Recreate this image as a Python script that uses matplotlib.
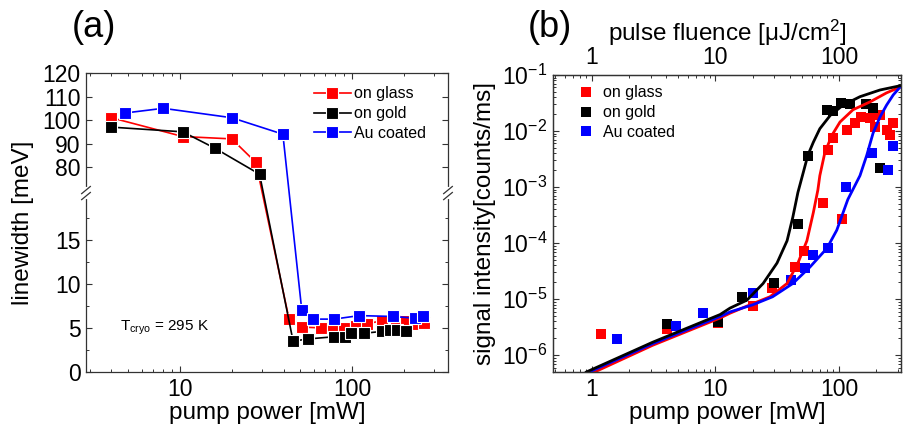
"""
Two-panel figure: (a) linewidth vs pump power with a broken y axis,
(b) signal intensity vs pump power on log-log axes with fit curves.
"""
import numpy as np
import matplotlib
matplotlib.use("Agg")
import matplotlib.pyplot as plt
from matplotlib.ticker import LogLocator, NullFormatter, FixedLocator

plt.rcParams['font.family'] = ['Liberation Sans', 'DejaVu Sans']
plt.rcParams['mathtext.fontset'] = 'custom'
plt.rcParams['mathtext.rm'] = 'Liberation Sans'
plt.rcParams['mathtext.it'] = 'Liberation Sans:italic'

RED, BLACK, BLUE = '#ff0000', '#000000', '#0000ff'
SPINE = '#333333'

# ---- panel (a): linewidth [meV] vs pump power [mW]
glass_p = [4.0, 10.4, 20, 27.6, 43, 51, 66, 77, 90, 105, 122, 150, 180, 205, 240, 262]
glass_w = [101, 93, 92, 82, 6.0, 5.1, 5.0, 4.9, 5.0, 5.2, 5.5, 5.8, 5.9, 5.8, 5.5, 5.6]
gold_p = [4.0, 10.4, 16, 29, 45.4, 55.5, 78.5, 91, 98.6, 117, 149, 166, 183, 204]
gold_w = [97, 95, 88, 77, 3.5, 3.75, 4.0, 4.0, 4.4, 4.4, 4.6, 4.8, 4.8, 4.6]
au_p = [4.8, 8.0, 20, 39.6, 51, 59, 78.5, 110, 173, 233, 258]
au_w = [103, 105, 101, 94, 7.0, 6.0, 6.0, 6.4, 6.3, 6.1, 6.3]

# ---- panel (b): signal intensity [counts/ms] vs pump power [mW]
glass_sp = [1.18, 4.05, 10.5, 20, 28.7, 44, 52, 74, 81, 90, 106, 116, 135, 150,
            178, 195, 215, 243, 260, 275]
glass_si = [2.4e-6, 2.9e-6, 3.8e-6, 7.5e-6, 1.6e-5, 3.7e-5, 7.3e-5, 5.1e-4, 4.5e-3,
            7.5e-3, 2.7e-4, 1.05e-2, 1.4e-2, 1.8e-2, 1.7e-2, 1.2e-2, 1.9e-2, 1.05e-2,
            8.5e-3, 1.4e-2]
gold_sp = [4.05, 10.5, 16.4, 30, 46.6, 56, 80, 89, 103, 123, 165, 190, 215]
gold_si = [3.6e-6, 3.9e-6, 1.1e-5, 1.9e-5, 2.2e-4, 3.6e-3, 2.4e-2, 2.3e-2, 3.1e-2,
           3.0e-2, 3.0e-2, 2.6e-2, 2.2e-3]
au_sp = [1.6, 4.8, 7.9, 20, 41, 53, 62, 81, 115, 186, 250, 275]
au_si = [1.95e-6, 3.3e-6, 5.6e-6, 1.3e-5, 2.2e-5, 3.6e-5, 6.1e-5, 8.1e-5, 1.0e-3,
         4.0e-3, 2.0e-3, 5.3e-3]

# fit curves
gold_fit_p = [0.9, 3.1, 10.9, 13.1, 18, 24.3, 31.5, 38, 42.3, 46.5, 51.5, 56, 62, 70,
              85, 108, 148, 215, 310]
gold_fit_i = [5e-7, 1.7e-6, 5.3e-6, 6.9e-6, 9.6e-6, 1.9e-5, 4.4e-5, 1.1e-4, 2.9e-4,
              8e-4, 1.85e-3, 3.7e-3, 6.3e-3, 1.1e-2, 1.9e-2, 2.9e-2, 4.1e-2, 5.4e-2, 6.4e-2]
glass_fit_p = [1.05, 3.1, 10.9, 13.1, 19, 27.6, 38, 46.5, 55, 62, 67.5, 70, 77, 88,
               102, 130, 178, 243, 313]
glass_fit_i = [5e-7, 1.5e-6, 4.6e-6, 5.6e-6, 7.9e-6, 1.1e-5, 1.9e-5, 4.4e-5, 1.1e-4,
               3.5e-4, 8.9e-4, 1.6e-3, 4.2e-3, 8.5e-3, 1.45e-2, 2.4e-2, 3.3e-2, 4.8e-2, 6.1e-2]
au_fit_p = [0.95, 3.1, 10.9, 13.1, 20, 29, 42.3, 58, 80, 96, 118, 148, 168, 189, 215,
            243, 275, 313]
au_fit_i = [5e-7, 1.6e-6, 4.9e-6, 5.9e-6, 7.9e-6, 1.1e-5, 1.9e-5, 3.7e-5, 8.1e-5,
            1.7e-4, 6e-4, 1.6e-3, 3.7e-3, 9.2e-3, 1.78e-2, 2.9e-2, 4.4e-2, 6.1e-2]

LABELS = ['on glass', 'on gold', 'Au coated']

# broken y axis for (a): 0..LOW_TOP below the break, UP_BOT..120 above it
LOW_TOP, UP_BOT, UP_K, GAP = 20.3, 69.0, 0.267, 0.01


def brk_fwd(y):
    y = np.asarray(y, float)
    mid = LOW_TOP + (y - LOW_TOP) * GAP / (UP_BOT - LOW_TOP)
    up = LOW_TOP + GAP + (y - UP_BOT) * UP_K
    return np.where(y <= LOW_TOP, y, np.where(y >= UP_BOT, up, mid))


def brk_inv(t):
    t = np.asarray(t, float)
    mid = LOW_TOP + (t - LOW_TOP) * (UP_BOT - LOW_TOP) / GAP
    up = UP_BOT + (t - LOW_TOP - GAP) / UP_K
    return np.where(t <= LOW_TOP, t, np.where(t >= LOW_TOP + GAP, up, mid))


def style_axes(ax):
    for s in ax.spines.values():
        s.set_color(SPINE)
        s.set_linewidth(0.9)
    ax.tick_params(which='both', direction='in', top=True, right=True,
                   color=SPINE, labelsize=16.5, pad=4)
    ax.tick_params(which='major', length=4.5, width=0.8)
    ax.tick_params(which='minor', length=2.5, width=0.7)


fig = plt.figure(figsize=(9.1, 4.3), dpi=100)

# ---------------- (a)
ax1 = fig.add_axes([0.0945, 0.1349, 0.3978, 0.6953])
ax1.set_xscale('log')
ax1.set_yscale('function', functions=(brk_fwd, brk_inv))
for p, w, c, lab in [(glass_p, glass_w, RED, LABELS[0]),
                     (gold_p, gold_w, BLACK, LABELS[1]),
                     (au_p, au_w, BLUE, LABELS[2])]:
    ax1.plot(p, w, '-s', color=c, lw=1.2, ms=8.5, mec='white', mew=0.8, label=lab)
ax1.set_xlim(2.85, 360)
ax1.set_ylim(0, 120)
ax1.yaxis.set_major_locator(FixedLocator([0, 5, 10, 15, 80, 90, 100, 110, 120]))
ax1.yaxis.set_minor_locator(FixedLocator([2.5, 7.5, 12.5, 17.5]))
ax1.yaxis.set_minor_formatter(NullFormatter())
ax1.set_xticks([10, 100], ['10', '100'])
ax1.xaxis.set_minor_locator(LogLocator(base=10, subs=np.arange(2, 10), numticks=20))
ax1.xaxis.set_minor_formatter(NullFormatter())
style_axes(ax1)
ax1.set_xlabel('pump power [mW]', fontsize=17.5, labelpad=1)
ax1.set_ylabel('linewidth [meV]', fontsize=17.5, labelpad=6)
ax1.text(4.5, 5, r'T$_{\mathregular{cryo}}$ = 295 K', fontsize=11, va='center')
ax1.legend(loc='upper left', bbox_to_anchor=(0.63, 0.955), frameon=False,
           fontsize=11.5, handlelength=2.3, handletextpad=0.2, borderpad=0,
           borderaxespad=0, labelspacing=0.3)

# break marks on both spines
yb = brk_fwd(LOW_TOP + 0.5 * (UP_BOT - LOW_TOP)) / brk_fwd(120)
for xb in (0, 1):
    ax1.plot([xb, xb], [yb - 0.012, yb + 0.012], color='white', lw=3,
             transform=ax1.transAxes, clip_on=False, zorder=5)
    for d in (-0.01, 0.01):
        ax1.plot([xb - 0.012, xb + 0.012], [yb + d - 0.012, yb + d + 0.012],
                 color=SPINE, lw=0.9, transform=ax1.transAxes, clip_on=False, zorder=6)

# ---------------- (b)
ax2 = fig.add_axes([0.6077, 0.1349, 0.3824, 0.6907])
ax2.set_xscale('log')
ax2.set_yscale('log')
for p, i, c, lab in [(glass_sp, glass_si, RED, LABELS[0]),
                     (gold_sp, gold_si, BLACK, LABELS[1]),
                     (au_sp, au_si, BLUE, LABELS[2])]:
    ax2.plot(p, i, 's', color=c, ms=7.5, mew=0, label=lab)
for p, i, c in [(glass_fit_p, glass_fit_i, RED),
                (au_fit_p, au_fit_i, BLUE),
                (gold_fit_p, gold_fit_i, BLACK)]:
    ax2.plot(p, i, '-', color=c, lw=2.0, solid_joinstyle='round')
ax2.set_xlim(0.483, 318)
ax2.set_ylim(5e-7, 0.1)
for axis in (ax2.xaxis, ax2.yaxis):
    axis.set_major_locator(LogLocator(base=10, numticks=20))
    axis.set_minor_locator(LogLocator(base=10, subs=np.arange(2, 10), numticks=20))
    axis.set_minor_formatter(NullFormatter())
ax2.set_xticks([1, 10, 100], ['1', '10', '100'])
style_axes(ax2)
ax2.tick_params(top=False)
ax2.set_xlabel('pump power [mW]', fontsize=17.5, labelpad=1)
ax2.set_ylabel('signal intensity[counts/ms]', fontsize=17.5, labelpad=4)
ax2.legend(loc='upper left', bbox_to_anchor=(0.065, 0.965), frameon=False,
           fontsize=11.5, numpoints=1, handlelength=1.3, handletextpad=0.4,
           borderpad=0, borderaxespad=0, labelspacing=0.3)

axt = ax2.twiny()
axt.set_xscale('log')
axt.set_xlim(ax2.get_xlim())
axt.set_xticks([1, 10, 100], ['1', '10', '100'])
axt.xaxis.set_minor_locator(LogLocator(base=10, subs=np.arange(2, 10), numticks=20))
axt.xaxis.set_minor_formatter(NullFormatter())
style_axes(axt)
axt.tick_params(bottom=False, left=False, right=False)
axt.set_xlabel(r'pulse fluence [$\mathregular{\mu}$J/cm$^{2}$]', fontsize=17.5, labelpad=4)

fig.text(0.103, 0.937, '(a)', fontsize=26, ha='center', va='center')
fig.text(0.604, 0.937, '(b)', fontsize=26, ha='center', va='center')

fig.savefig('out.png', dpi=100)
